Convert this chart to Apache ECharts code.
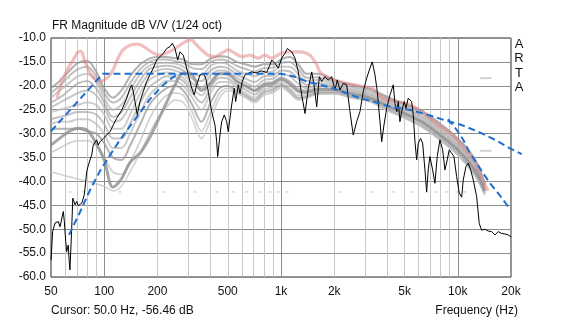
<!DOCTYPE html>
<html>
<head>
<meta charset="utf-8">
<script src="https://cdn.jsdelivr.net/npm/echarts@6/dist/echarts.min.js"></script>
<style>
  html, body { margin: 0; padding: 0; background: #fff; }
  #c { width: 563px; height: 323px; }
</style>
</head>
<body>
<div id="c"></div>
<script>
// ---- frequency axis: tick labels and grid positions (Hz) ----
const labelHz   = [50, 100, 200, 500, 1000, 2000, 5000, 10000, 20000];
const labelText = ['50', '100', '200', '500', '1k', '2k', '5k', '10k', '20k'];
const majorHz   = [100, 1000, 10000];
const minorHz   = [60, 70, 80, 90, 200, 300, 400, 500, 600, 700, 800, 900,
                   2000, 3000, 4000, 5000, 6000, 7000, 8000, 9000];

// ---- measured response (black) ----
const measHz = [50, 51.1, 52.7, 53.9, 55.0, 56.2, 58.7, 59.5, 60.6, 61.3,
  62.6, 63.4, 64.0, 64.9, 65.7, 66.4, 68.4, 69.9, 71.3, 73.0,
  74.8, 76.1, 77.1, 77.9, 79.6, 81.3, 84.9, 86.7, 90.7, 92.5,
  94.7, 98.8, 103.3, 107.9, 112.6, 117.6, 125.6, 134.1, 139.9, 143.0,
  146.0, 149.3, 153.8, 159.3, 166.3, 173.9, 181.5, 189.5, 198.1, 206.8,
  215.9, 225.6, 235.5, 242.7, 251.4, 260.4, 268.3, 280.1, 292.7, 312.5,
  323.2, 333.5, 348.2, 363.5, 375, 387.8, 405.4, 423.2, 432.7, 438.4,
  451.7, 461.8, 477.7, 492.8, 503.2, 514.4, 526, 543.9, 553.9, 573.3,
  586.1, 603.8, 625.6, 650.5, 682.7, 721.9, 777.6, 829.9, 866.6, 885.7,
  924.6, 965.5, 1009, 1054, 1086, 1150, 1200, 1253, 1309, 1367,
  1427, 1492, 1537, 1592, 1647, 1698, 1773, 1851, 1935, 2020,
  2081, 2156, 2250, 2352, 2455, 2563, 2680, 2797, 2920, 3052,
  3186, 3283, 3401, 3504, 3630, 3711, 3824, 3961, 4136, 4317,
  4411, 4512, 4607, 4708, 4813, 4979, 5090, 5245, 5364, 5484,
  5601, 5725, 5853, 5977, 6163, 6328, 6520, 6665, 6805, 6956,
  7206, 7426, 7652, 7926, 8210, 8459, 8717, 8945, 9229, 9510,
  9852, 10190, 10516, 10736, 11121, 11460, 11826, 12234, 12787, 13225,
  13646, 14247, 14871, 15543, 16227, 16940, 17705, 18480, 19293, 20000];
const measDb = [-56.5, -50.5, -48.7, -49.1, -48.4, -49.5, -46.3, -48.4, -52.6, -54.7,
  -53.3, -56.8, -58.5, -53.3, -48.4, -43.5, -44.9, -44.2, -45.1, -45.3,
  -44.5, -44.9, -42.8, -41.4, -38.0, -36.6, -34.5, -32.4, -31.3, -32.4,
  -31.7, -31.0, -30.3, -29.6, -28.2, -26.8, -25.1, -22.6, -20.5, -19.8,
  -21.2, -23.3, -26.1, -23.3, -21.2, -19.1, -17.7, -16.3, -14.6, -13.9,
  -13.2, -12.2, -11.8, -11.1, -12.2, -14.6, -12.9, -13.6, -16.3, -20.5,
  -21.9, -19.8, -17.7, -17.4, -18.4, -21.2, -25.4, -28.2, -31.7, -34.8,
  -30.3, -27.5, -26.1, -27.5, -29.6, -26.8, -24.0, -20.5, -23.3, -19.8,
  -21.6, -19.1, -17.7, -17.4, -17.1, -17.3, -16.9, -17.2, -15.6, -14.6,
  -15.3, -16.3, -14.2, -13.2, -12.2, -12.9, -14.2, -17.1, -21.9, -25.8,
  -20.5, -17.1, -19.8, -24.4, -18.1, -19.1, -18.1, -18.8, -18.1, -20.9,
  -18.8, -20.9, -19.5, -19.8, -25.4, -30.3, -27.5, -25.4, -21.2, -18.4,
  -16.3, -15.0, -17.7, -21.2, -27.5, -31.7, -28.2, -24.7, -21.9, -19.8,
  -23.7, -25.4, -23.3, -27.5, -25.4, -23.3, -24.7, -22.6, -22.3, -23.3,
  -26.1, -31.7, -35.5, -32.0, -31.0, -32.0, -37.6, -42.2, -37.6, -34.8,
  -37.6, -40.4, -34.8, -31.3, -33.4, -37.6, -35.5, -33.4, -34.1, -34.8,
  -39.0, -42.4, -43.3, -39.7, -36.9, -36.2, -37.6, -39.7, -43.2, -48.8,
  -50.2, -50.0, -50.4, -50.5, -51.2, -50.5, -50.9, -51.0, -51.2, -51.6];

// ---- reference overlay (pink) ----
const pinkHz = [54.1, 57.7, 62.4, 66.8, 71.1, 73.9, 77.9, 83.1, 88.7, 95.9,
  103.7, 112.1, 119.7, 127.7, 139.9, 155.3, 172.3, 188.7, 206.8, 226.5,
  251.4, 286.3, 312.5, 326.1, 355.9, 387.8, 423.2, 461.8, 503.2, 549,
  599.5, 667.7, 743.9, 812, 885.7, 1000, 1124, 1280, 1459, 1592,
  1661, 1812, 2020, 2303, 2621, 2985, 3313, 3535, 3873, 4411,
  5227, 6111, 6956, 7926, 9029, 10287, 11413, 12503, 13521, 14810];
const pinkDb = [-22.6, -19.2, -16.3, -14.6, -12.9, -12.8, -15.0, -17.3, -18.6, -19.0,
  -18.4, -16.7, -14.2, -12.5, -11.5, -11.3, -12.1, -13.1, -13.6, -13.1,
  -12.2, -10.8, -10.4, -11.1, -12.5, -13.6, -13.9, -13.2, -12.5, -13.2,
  -13.9, -13.6, -14.2, -13.6, -14.2, -13.2, -12.9, -12.9, -13.6, -15.6,
  -17.1, -18.1, -18.8, -19.4, -19.8, -20.2, -20.6, -21.7, -22.8, -23.2,
  -23.8, -25.1, -26.9, -28.5, -29.9, -32.0, -34.1, -35.9, -38.7, -42.0];

// ---- overlay family (grey), common frequency grid ----
const greyHz = [50, 56, 63, 71, 80, 90, 100, 112, 125, 140,
  160, 180, 200, 225, 250, 280, 315, 355, 400, 450,
  500, 560, 630, 710, 800, 900, 1000, 1120, 1250, 1400,
  1600, 2000, 2500, 3150, 4000, 5000, 6300, 8000, 10000, 12500, 14200];
const grey0 = [-20.5,-19,-17,-15.2,-14.8,-17,-20.5,-22.5,-21,-18,-15.5,-14.3,-14,-14,-14.2,-14.5,-15.5,-15.5,-14.3,-13.8,-14,-15,-15.5,-16,-15.5,-15.5,-14.5,-14,-15.5,-17.5,-17.5,-18.8,-19.8,-20.6,-22.3,-23.8,-25.3,-28,-31,-35.3,-40.5];
const grey1 = [-21.5,-20,-18,-16.5,-16,-18,-21.5,-23.5,-22.5,-19.5,-16.5,-15,-14.5,-14.5,-14.8,-15.2,-16.3,-16.5,-15,-14.5,-14.8,-15.8,-16.5,-17,-16.3,-16.2,-15.2,-15,-16.5,-18.3,-18.2,-19.2,-20.2,-21,-22.6,-24.1,-25.7,-28.4,-31.4,-35.7,-40.8];
const grey2 = [-22.5,-21,-19.5,-18,-17.5,-19,-22.5,-25,-24,-21,-17.5,-15.8,-15.3,-15.2,-15.3,-16,-17.5,-17.8,-15.8,-15.2,-15.5,-16.8,-17.5,-18,-17.2,-17,-16,-16,-17.5,-19,-18.8,-19.6,-20.6,-21.4,-23,-24.5,-26.2,-28.9,-31.9,-36.2,-41.1];
const grey3 = [-23.5,-22.5,-21,-19.5,-19,-20.5,-23.5,-26.5,-25.5,-22.5,-18.8,-16.5,-16,-15.8,-16,-16.8,-18.5,-19,-16.8,-16,-16.3,-17.6,-18.5,-19.2,-18,-17.8,-16.8,-17,-18.5,-19.8,-19.4,-20,-21,-21.8,-23.4,-24.9,-26.6,-29.4,-32.4,-36.7,-41.4];
const grey4 = [-24.5,-23.5,-22.5,-21.5,-21,-22,-24.5,-27.5,-27,-24,-20,-17.5,-16.8,-16.5,-16.8,-17.5,-19.5,-20.5,-17.8,-16.8,-17,-18.3,-19.3,-20.2,-18.8,-18.5,-17.5,-18,-19.5,-20.5,-20,-20.4,-21.3,-22.1,-23.8,-25.3,-27,-29.8,-32.8,-37.1,-41.6];
const grey5 = [-25.5,-25,-24.5,-24,-23.5,-24,-26,-29,-29,-26,-21.5,-18.8,-17.8,-17.2,-17.5,-18.3,-20.5,-22,-19,-17.5,-17.8,-19,-20,-21,-19.5,-19.2,-18.2,-19,-20.5,-21,-20.5,-20.8,-21.6,-22.4,-24.1,-25.6,-27.4,-30.2,-33.2,-37.5,-41.9];
const grey6 = [-27,-26.5,-26,-25.5,-25.5,-26,-28,-31,-31,-28,-23.5,-20.3,-19,-18,-18.2,-19,-21.5,-23.5,-20.3,-18.3,-18.5,-19.7,-20.8,-21.8,-20.2,-19.8,-18.8,-19.8,-21.3,-21.5,-21,-21.1,-21.9,-22.7,-24.4,-25.9,-27.8,-30.6,-33.6,-37.9,-42.1];
const grey7 = [-28,-27.5,-27.5,-27,-27,-28,-30,-33,-33,-30,-25.5,-22,-20.3,-19,-19,-20,-22.5,-25,-21.5,-19.2,-19.2,-20.3,-21.5,-22.5,-20.8,-20.3,-19.3,-20.5,-22,-22,-21.3,-21.3,-22.2,-22.9,-24.7,-26.3,-28.2,-31,-34,-38.3,-42.4];
const grey8 = [-29,-29,-29,-29,-29.5,-30,-32,-35,-35.5,-32.5,-28,-24,-22,-20.5,-20,-21,-24,-27.5,-23.5,-20.5,-20,-21,-22,-23,-21.3,-20.8,-19.8,-21,-22.5,-22.3,-21.5,-21.5,-22.4,-23.1,-25,-26.6,-28.5,-31.3,-34.3,-38.6,-42.6];
const grey9 = [-38,-38.5,-39,-39.5,-40,-40.5,-41,-42,-41,-38,-34,-30,-27,-24.5,-23,-23.5,-27,-31,-27,-22.5,-21,-21.5,-22.5,-23.5,-22,-21.5,-20.5,-21.5,-23,-22.5,-21.8,-21.7,-22.5,-23.3,-25.2,-26.8,-28.7,-31.5,-34.5,-38.8,-42.8];
const grey10 = [-34,-33,-32,-31.5,-31.5,-32.5,-35,-38,-38.5,-36,-31.5,-27,-24,-22,-21.5,-22,-25.5,-29.5,-25.5,-21.5,-20.5,-21.2,-22.3,-23.3,-21.7,-21.2,-20.2,-21.3,-22.8,-22.5,-21.7,-21.6,-22.5,-23.2,-25.1,-26.7,-28.6,-31.4,-34.4,-38.7,-42.7];
const grey11 = [-32.4,-31,-29.6,-28.9,-29.3,-32,-35.5,-41.2,-39.5,-36,-34,-31,-27.5,-23.5,-20,-17.3,-17.8,-21,-19.5,-17.5,-17.5,-19,-20,-21,-19.8,-19.5,-18.5,-19.5,-21,-21.3,-20.7,-20.8,-21.7,-22.5,-24.2,-25.8,-27.6,-30.4,-33.4,-37.7,-42];
const greyCurves = [grey0, grey1, grey2, grey3, grey4, grey5, grey6, grey7, grey8, grey9, grey10, grey11];

// faint dotted trace and short grey dashes
const dotHz = [64.0, 76.1, 122.8, 215.9, 326, 432.7, 537, 640, 760, 866.6, 965.5,
  1081, 2156, 3257, 4317, 5484, 6665, 7594, 8650, 9852, 10978];
const dotDb = -42.2;
const dashLeftHz = [56, 64];
const dashRightHz = [13400, 15500];
const dashDb = [-18.4, -33.6];

// ---- target curves (blue dashed) ----
const targetAHz = [50, 98, 280, 500, 800, 1000, 1173, 1397, 1661, 1976, 2352, 2797,
  3326, 3961, 4607, 5484, 6805, 8459, 10516, 13055, 16227, 19726, 23000];
const targetADb = [-29.5, -17.5, -17.5, -17.5, -17.5, -17.5, -18.0, -19.1, -19.8, -20.5, -21.6, -22.6,
  -23.3, -24.2, -24.6, -25.1, -26.1, -27.2, -28.2, -29.6, -31.3, -33.1, -34.3];
const targetBLowHz = [63.2, 73.0, 83.1, 94.7, 107.9, 122.8, 145.5, 181.5, 206.8, 229.4, 258];
const targetBLowDb = [-51.2, -46.4, -41.8, -37.8, -34.5, -31.3, -27.6, -22.8, -20.5, -19.0, -17.6];
const targetBHighHz = [8797, 9852, 10736, 11713, 12787, 13935, 15205, 16940, 18075, 19293, 20000];
const targetBHighDb = [-27.0, -29.2, -31.3, -34.1, -36.2, -38.3, -40.4, -42.5, -43.9, -45.3, -45.8];

// ---------------------------------------------------------------
const lg = Math.log10;
const xy = (hz, db) => hz.map((f, i) => [lg(f), Array.isArray(db) ? db[i] : db]);
const FONT = '"Liberation Sans", Arial, sans-serif';

const PLOT_L = 51, PLOT_T = 38, PLOT_W = 460, PLOT_H = 239, OVERHANG = 22;
const X_MIN = lg(50), X_MAX = lg(20000);
// wider twin of the plot area, same Hz-per-pixel scale, so the first target may run past 20 kHz
const X_MAX_WIDE = X_MIN + (X_MAX - X_MIN) * (PLOT_W + OVERHANG) / PLOT_W;

const greyColors = ['rgba(150,150,150,0.75)', 'rgba(165,165,165,0.7)', 'rgba(180,180,180,0.7)',
                    'rgba(165,165,165,0.7)', 'rgba(175,175,175,0.7)', 'rgba(185,185,185,0.7)',
                    'rgba(170,170,170,0.7)', 'rgba(185,185,185,0.7)', 'rgba(155,155,155,0.75)',
                    'rgba(200,200,200,0.8)', 'rgba(190,190,190,0.75)', 'rgba(145,145,145,0.8)'];
const greyWidths = [2, 2, 2, 2, 2, 2, 2, 2, 2, 1.6, 1.6, 3];

const series = [];
greyCurves.forEach((db, i) => {
  series.push({
    type: 'line', data: xy(greyHz, db), symbol: 'none', smooth: 0.35, silent: true, z: 1,
    lineStyle: { color: greyColors[i], width: greyWidths[i] }
  });
});
series.push({
  type: 'scatter', data: xy(dotHz, dotDb), symbol: 'rect', symbolSize: [3, 1.5], silent: true, z: 1,
  itemStyle: { color: '#cccccc' }
});
series.push({
  type: 'line', data: xy(dashLeftHz, dashDb[0]), symbol: 'none', silent: true, z: 1,
  lineStyle: { color: '#d0d0d0', width: 2 }
});
dashDb.forEach(v => series.push({
  type: 'line', data: xy(dashRightHz, v), symbol: 'none', silent: true, z: 1,
  lineStyle: { color: '#d0d0d0', width: 2 }
}));
series.push({
  type: 'line', data: xy(pinkHz, pinkDb), symbol: 'none', smooth: 0.3, silent: true, z: 2,
  lineStyle: { color: 'rgba(228,128,128,0.5)', width: 3.2 }
});
series.push({
  type: 'line', data: xy(measHz, measDb), symbol: 'none', silent: true, z: 3,
  lineStyle: { color: '#000000', width: 1 }
});
const blueStyle = { color: '#1f6fd1', width: 2, type: [7, 4] };
series.push({
  type: 'line', data: xy(targetAHz, targetADb), symbol: 'none', silent: true, z: 4,
  xAxisIndex: 2, yAxisIndex: 1, lineStyle: blueStyle
});
series.push({
  type: 'line', data: xy(targetBLowHz, targetBLowDb), symbol: 'none', silent: true, z: 4,
  lineStyle: blueStyle
});
series.push({
  type: 'line', data: xy(targetBHighHz, targetBHighDb), symbol: 'none', silent: true, z: 4,
  lineStyle: blueStyle
});

const labelFor = v => {
  let best = 0;
  labelHz.forEach((f, i) => { if (Math.abs(lg(f) - v) < Math.abs(lg(labelHz[best]) - v)) best = i; });
  return labelText[best];
};

const txt = (x, y, text, align, size) => ({
  type: 'text', x, y, silent: true,
  style: { text, fill: '#111', font: (size || 12) + 'px ' + FONT, align: align || 'left', verticalAlign: 'middle' }
});

const option = {
  animation: false,
  backgroundColor: '#ffffff',
  grid: [
    { left: PLOT_L, top: PLOT_T, width: PLOT_W, height: PLOT_H, show: true,
      borderColor: '#2b2b2b', borderWidth: 1, backgroundColor: 'rgba(0,0,0,0)' },
    { left: PLOT_L, top: PLOT_T, width: PLOT_W + OVERHANG, height: PLOT_H, show: false }
  ],
  xAxis: [{
    type: 'value', min: X_MIN, max: X_MAX, position: 'bottom',
    axisLine: { show: false },
    axisTick: { show: false, customValues: majorHz.map(lg) },
    splitLine: { show: true, lineStyle: { color: '#8c8c8c', width: 1 } },
    axisLabel: { customValues: labelHz.map(lg), formatter: labelFor, color: '#111',
                 fontSize: 12, fontFamily: FONT, margin: 9 }
  }, {
    type: 'value', min: X_MIN, max: X_MAX, position: 'bottom',
    axisLine: { show: false },
    axisTick: { show: false, customValues: minorHz.map(lg) },
    axisLabel: { show: false },
    splitLine: { show: true, lineStyle: { color: '#c6c6c6', width: 1 } }
  }, {
    type: 'value', gridIndex: 1, min: X_MIN, max: X_MAX_WIDE, show: false
  }],
  yAxis: [{
    type: 'value', min: -60, max: -10, interval: 5,
    axisLine: { show: false }, axisTick: { show: false },
    axisLabel: { formatter: v => v.toFixed(1), color: '#111', fontSize: 12, fontFamily: FONT, margin: 5 },
    splitLine: { lineStyle: { color: '#8c8c8c', width: 1 } }
  }, {
    type: 'value', gridIndex: 1, min: -60, max: -10, show: false
  }],
  series,
  graphic: [
    txt(52, 26, 'FR Magnitude dB V/V (1/24 oct)'),
    txt(519, 44, 'A', 'center', 13),
    txt(519, 58.5, 'R', 'center', 13),
    txt(519, 73, 'T', 'center', 13),
    txt(519, 87.5, 'A', 'center', 13),
    txt(51, 311, 'Cursor: 50.0 Hz, -56.46 dB'),
    txt(518, 311, 'Frequency (Hz)', 'right')
  ]
};

const chart = echarts.init(document.getElementById('c'), null, { renderer: 'canvas' });
chart.setOption(option);
</script>
</body>
</html>
